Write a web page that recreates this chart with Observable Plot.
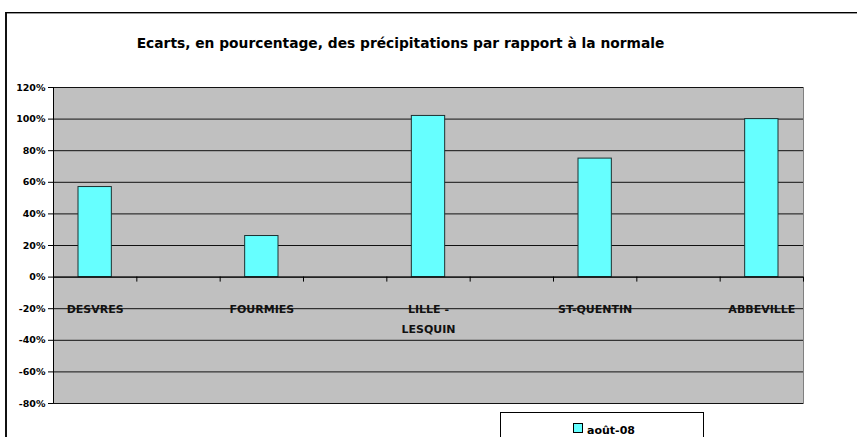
<!DOCTYPE html>
<html>
<head>
<meta charset="utf-8">
<script src="https://cdn.jsdelivr.net/npm/d3@7"></script>
<script src="https://cdn.jsdelivr.net/npm/@observablehq/plot@0.6"></script>
<style>
  html, body { margin: 0; padding: 0; background: #fff; }
  #wrap { position: relative; width: 857px; height: 437px; overflow: hidden; font-family: "DejaVu Sans", sans-serif; }
  #frame { position: absolute; left: 5px; top: 12px; width: 900px; height: 500px; border-left: 2px solid #111; border-top: 1px solid #000; box-shadow: inset 0 1px 0 #999; box-sizing: border-box; }
  #title { position: absolute; left: 0; width: 801px; top: 35px; text-align: center; font-weight: bold; font-size: 13.8px; color: #000; }
  #chart { position: absolute; left: 0; top: 0; }
  #legend { position: absolute; left: 500px; top: 412px; width: 204px; height: 40px; border: 1px solid #000; box-sizing: border-box; background: #fff; }
  #legend .sw { position: absolute; left: 72px; top: 10px; width: 8px; height: 8px; background: #66ffff; border: 1px solid #000; }
  #legend .lab { position: absolute; left: 86px; top: 11px; font-size: 11px; font-weight: bold; }
</style>
</head>
<body>
<div id="wrap">
  <div id="frame"></div>
  <div id="chart"></div>
  <div id="title">Ecarts, en pourcentage, des précipitations par rapport à la normale</div>
  <div id="legend"><div class="sw"></div><div class="lab">août-08</div></div>
</div>
<script>
// Data
const stations = ["DESVRES", "FOURMIES", "LILLE -\nLESQUIN", "ST-QUENTIN", "ABBEVILLE"];
const slots = [0, 2, 4, 6, 8];          // category slot of each station (empty slots between)
const slotCount = 9;
const values = [57, 26, 102, 75, 100];  // % vs normal, août-08
const yTicks = [-80, -60, -40, -20, 0, 20, 40, 60, 80, 100, 120];
const seriesName = "août-08";

const data = stations.map((s, i) => ({station: s, slot: slots[i], value: values[i]}));
const boundaries = d3.range(slotCount + 1).map(i => i - 0.5);

const chart = Plot.plot({
  width: 857,
  height: 437,
  marginLeft: 53,
  marginRight: 54,
  marginTop: 87,
  marginBottom: 34,
  style: {fontFamily: "DejaVu Sans, sans-serif", background: "transparent", overflow: "visible"},
  x: {type: "linear", domain: [-0.5, slotCount - 0.5], axis: null},
  y: {domain: [-80, 120], axis: null},
  marks: [
    Plot.frame({fill: "#c0c0c0", stroke: "#808080"}),
    Plot.ruleY(yTicks, {stroke: "#111", strokeWidth: 1}),
    Plot.text(data, {x: "slot", y: -20, text: "station", fontWeight: "bold", fontSize: 11, fill: "#111", lineAnchor: "top", dy: -10, lineHeight: 1.8}),
    Plot.rectY(data, {x1: d => d.slot - 0.2, x2: d => d.slot + 0.2, y: "value", fill: "#66ffff", stroke: "#1d3030", strokeWidth: 1}),
    Plot.ruleY([0], {stroke: "#000"}),
    Plot.ruleX(boundaries, {y1: 0, y2: 0, insetBottom: -5, stroke: "#000"}),
    Plot.ruleX([-0.5], {stroke: "#000"}),
    Plot.axisY({ticks: yTicks, tickFormat: d => d + "%", tickSize: 5, tickPadding: 3, fontWeight: "bold", fontSize: 9.5, color: "#000", label: null})
  ]
});
document.getElementById("chart").appendChild(chart);
</script>
</body>
</html>
